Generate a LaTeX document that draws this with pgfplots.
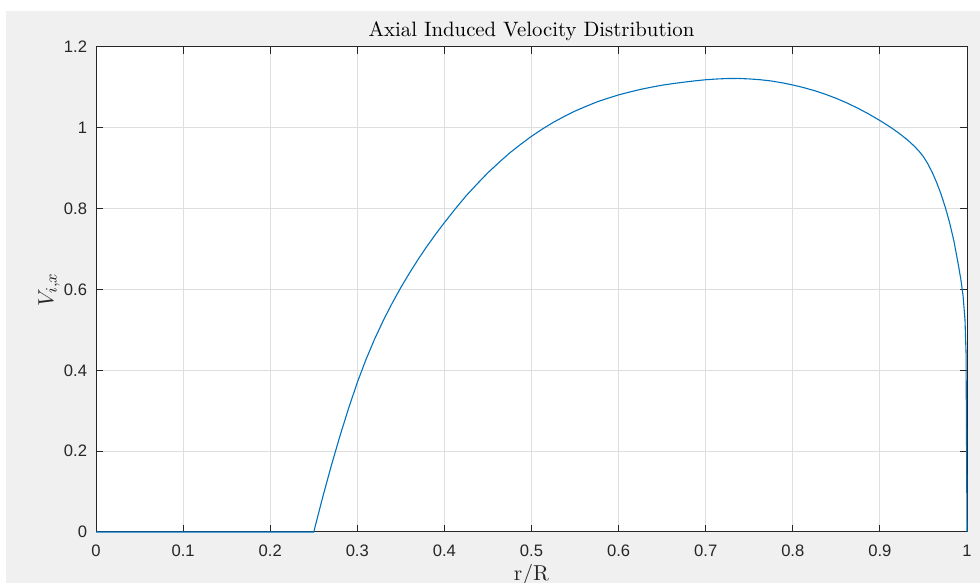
\documentclass[border=0pt]{standalone}
\usepackage{fontspec}
\usepackage{pgfplots}
\pgfplotsset{compat=1.18}
\newfontfamily\arialf{Liberation Sans}
\definecolor{figgrey}{RGB}{240,240,240}
\definecolor{axgrey}{RGB}{38,38,38}
\definecolor{gridgrey}{RGB}{222,222,222}
\definecolor{mblue}{RGB}{0,114,189}
\begin{document}
\begin{tikzpicture}
\useasboundingbox (0,0) rectangle (490pt,291.5pt);
\fill[white] (0,0) rectangle (490pt,291.5pt);
\fill[figgrey] (3pt,0) rectangle (490pt,286pt);
\begin{axis}[
  at={(48pt,25.5pt)}, anchor=south west,
  scale only axis, width=435.5pt, height=242.5pt,
  xmin=0, xmax=1, ymin=0, ymax=1.2,
  axis background/.style={fill=white},
  xtick={0,0.1,0.2,0.3,0.4,0.5,0.6,0.7,0.8,0.9,1},
  xticklabels={0,0.1,0.2,0.3,0.4,0.5,0.6,0.7,0.8,0.9,1},
  ytick={0,0.2,0.4,0.6,0.8,1,1.2},
  yticklabels={0,0.2,0.4,0.6,0.8,1,1.2},
  /pgf/number format/assume math mode=true,
  grid=major,
  major grid style={color=gridgrey, line width=0.5pt},
  axis line style={color=axgrey, line width=0.5pt},
  tick style={color=axgrey, line width=0.5pt},
  tick align=inside,
  major tick length=3.3pt,
  ticklabel style={font=\arialf\fontsize{8.3}{10}\selectfont, text=axgrey},
  xticklabel style={anchor=base, yshift=-12.3pt},
  yticklabel style={anchor=east, inner sep=0pt, xshift=-4.3pt},
  title={Axial Induced Velocity Distribution},
  title style={font=\fontsize{10.4}{12}\selectfont, anchor=base, at={(axis description cs:0.5,0.997)}, inner sep=0pt},
  xlabel={r/R},
  xlabel style={font=\fontsize{10.8}{12}\selectfont, text=axgrey, anchor=base, at={(axis description cs:0.5,-0.101)}, inner sep=0pt},
  ylabel={$V_{i,x}$},
  ylabel style={font=\fontsize{10.8}{12}\selectfont, text=axgrey, anchor=center, at={(axis description cs:-0.054,0.5)}, inner sep=0pt},
  clip=false,
]
\addplot[color=mblue, line width=0.55pt, mark=none] coordinates {
(0,0) (0.25,0) (0.26,0.084) (0.27,0.163) (0.28,0.237) (0.29,0.306) (0.30,0.370)
(0.31,0.427) (0.32,0.478) (0.33,0.524) (0.34,0.566) (0.35,0.605)
(0.36,0.641) (0.37,0.675) (0.38,0.707) (0.39,0.737) (0.40,0.7655)
(0.4125,0.7995) (0.425,0.832) (0.4375,0.861) (0.45,0.889) (0.4625,0.914) (0.475,0.938)
(0.4875,0.959) (0.5,0.979) (0.5125,0.997) (0.525,1.0135) (0.5375,1.028) (0.55,1.0415)
(0.5625,1.053) (0.575,1.064) (0.5875,1.073) (0.6,1.0815) (0.6125,1.0885) (0.625,1.095)
(0.6375,1.1005) (0.65,1.1055) (0.6625,1.1095) (0.675,1.113) (0.6875,1.1162) (0.7,1.119)
(0.7125,1.1208) (0.725,1.122) (0.7375,1.1222) (0.75,1.121) (0.7625,1.119) (0.775,1.116)
(0.7875,1.1115) (0.8,1.106) (0.8125,1.0995) (0.825,1.0919) (0.8375,1.083) (0.85,1.0728)
(0.8625,1.0612) (0.875,1.0482) (0.8875,1.0338) (0.9,1.018)
(0.905,1.0114) (0.91,1.0045) (0.915,0.99725) (0.92,0.9896) (0.925,0.9815) (0.93,0.9729)
(0.935,0.9636) (0.94,0.9535) (0.945,0.942) (0.95,0.9285) (0.955,0.911) (0.96,0.89)
(0.965,0.8655) (0.97,0.837) (0.975,0.804) (0.98,0.7655)
(0.985,0.7195) (0.99,0.662) (0.993,0.624) (0.9955,0.584) (0.9977,0.525) (0.9989,0.443) (1,0)
};
\end{axis}
\end{tikzpicture}
\end{document}
